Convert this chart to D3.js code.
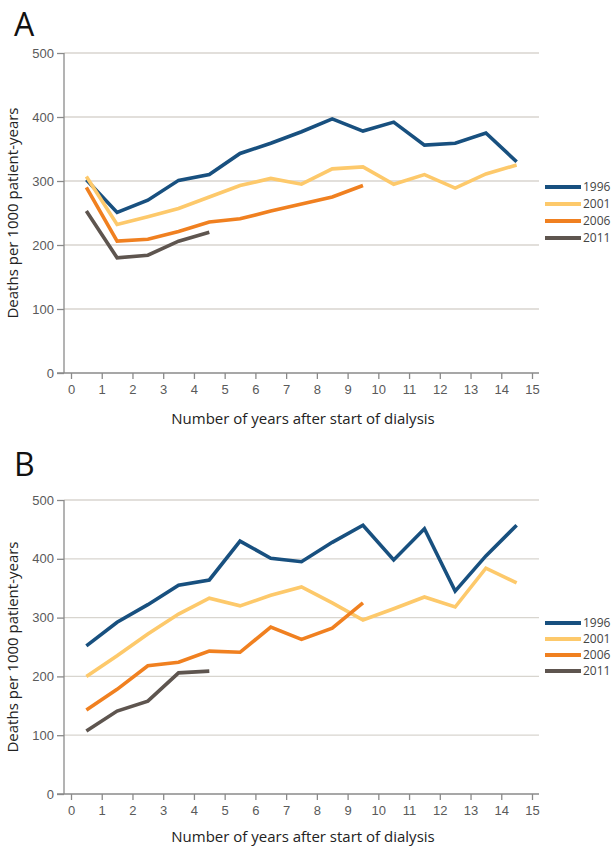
<!DOCTYPE html>
<html><head><meta charset="utf-8">
<script src="https://cdn.jsdelivr.net/npm/d3@7"></script>
<style>body{margin:0;background:#fff;}svg{display:block;font-family:"Open Sans","Noto Sans",sans-serif;}</style>
</head><body><svg id="c" width="614" height="850"></svg>
<script>
const years = [0.5,1.5,2.5,3.5,4.5,5.5,6.5,7.5,8.5,9.5,10.5,11.5,12.5,13.5,14.5];
const seriesNames = ["1996","2001","2006","2011"];
const seriesColors = ["#18507f","#fdc96b","#f08020","#5e554f"];
const xTicks = [0,1,2,3,4,5,6,7,8,9,10,11,12,13,14,15];
const yTicks = [0,100,200,300,400,500];

const a1996 = [302,251,270,301,310,343,359,377,397,378,392,356,359,375,330];
const a2001 = [307,232,244,257,275,293,304,295,319,322,295,310,289,311,325];
const a2006 = [290,206,209,221,236,241,253,264,275,293];
const a2011 = [253,180,184,206,220];

const b1996 = [252,292,322,355,364,430,401,395,428,457,398,451,345,405,457];
const b2001 = [200,235,272,306,333,320,338,352,325,296,315,335,318,384,359];
const b2006 = [143,178,218,224,243,241,284,263,282,325];
const b2011 = [107,141,158,206,209];

const svg = d3.select("#c");

function panel(o){
  const g = svg.append("g");
  const x = d3.scaleLinear().domain([0,15]).range([71,532]);
  const y = d3.scaleLinear().domain([0,500]).range([o.y0,o.y500]);
  // letter
  g.append("text").attr("x",14).attr("y",o.letterY).attr("font-size",32)
   .attr("font-family","Open Sans, sans-serif").attr("fill","#111").text(o.letter);
  // gridlines
  g.selectAll(".grid").data(yTicks.slice(1)).join("line")
   .attr("x1",64).attr("x2",539).attr("y1",d=>y(d)).attr("y2",d=>y(d))
   .attr("stroke","#d8d5cf").attr("stroke-width",1.3);
  // y axis
  const ya = d3.axisLeft(y).tickValues(yTicks).tickSize(7).tickPadding(3);
  const yg = g.append("g").attr("transform","translate(64,0)").call(ya);
  yg.select(".domain").attr("stroke","#8a8a8a").attr("stroke-width",1.3).attr("d",`M0,${o.y500}V${o.y0}`);
  yg.selectAll(".tick line").attr("stroke","#8a8a8a").attr("stroke-width",1.3);
  yg.selectAll("text").attr("font-size",13).attr("fill","#5a5a5a");
  // x axis
  const xa = d3.axisBottom(x).tickValues(xTicks).tickSize(6).tickPadding(6);
  const xg = g.append("g").attr("transform",`translate(0,${o.y0})`).call(xa);
  xg.select(".domain").attr("stroke","#8a8a8a").attr("stroke-width",1.3).attr("d","M57,0H539");
  xg.selectAll(".tick line").attr("stroke","#8a8a8a").attr("stroke-width",1.3);
  xg.selectAll("text").attr("font-size",13).attr("fill","#5a5a5a");
  // labels
  g.append("text").attr("x",303).attr("y",o.xlabY).attr("text-anchor","middle")
   .attr("font-size",15).attr("fill","#222").text("Number of years after start of dialysis");
  g.append("text").attr("transform",`translate(18,${o.ylabC}) rotate(-90)`).attr("text-anchor","middle")
   .attr("font-size",15).attr("fill","#222").text("Deaths per 1000 patient-years");
  // lines
  const line = d3.line().x((d,i)=>x(years[i])).y(d=>y(d));
  o.data.forEach((s,i)=>{
    g.append("path").attr("d",line(s)).attr("fill","none").attr("stroke",seriesColors[i])
     .attr("stroke-width",3.6).attr("stroke-linejoin","miter");
  });
  // legend
  seriesNames.forEach((n,i)=>{
    const ly = o.legY + i*o.legStep;
    g.append("line").attr("x1",545).attr("x2",581).attr("y1",ly).attr("y2",ly)
     .attr("stroke",seriesColors[i]).attr("stroke-width",4);
    g.append("text").attr("x",583).attr("y",ly+4).attr("font-size",12).attr("fill","#444").text(n);
  });
}

panel({letter:"A",letterY:36,y0:373,y500:53,xlabY:424,ylabC:213,legY:187,legStep:17,
  data:[a1996,a2001,a2006,a2011]});
panel({letter:"B",letterY:476,y0:794,y500:500,xlabY:842,ylabC:647,legY:623,legStep:16,
  data:[b1996,b2001,b2006,b2011]});
</script></body></html>
